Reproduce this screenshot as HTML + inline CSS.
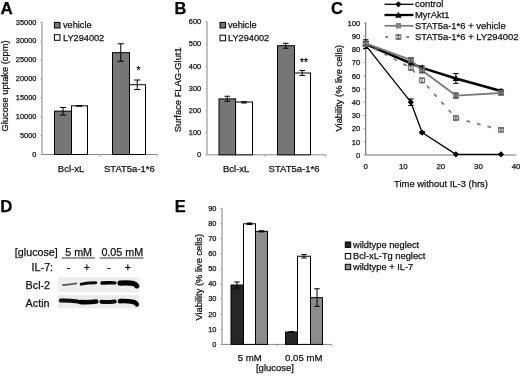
<!DOCTYPE html>
<html><head><meta charset="utf-8"><title>Figure</title>
<style>
html,body{margin:0;padding:0;background:#fff;}
body{width:520px;height:376px;overflow:hidden;font-family:"Liberation Sans",sans-serif;}
svg{display:block;will-change:transform;transform:translateZ(0);}
svg text{font-family:"Liberation Sans",sans-serif;}
</style></head><body>
<svg width="520" height="376" viewBox="0 0 520 376">
<rect x="0" y="0" width="520" height="376" fill="#fff"/>
<text x="0.5" y="13.5" font-size="17.0" text-anchor="start" font-weight="bold" fill="#000" stroke="#000" stroke-width="0.25" >A</text>
<line x1="42" y1="22.0" x2="42" y2="154.5" stroke="#858585" stroke-width="1" />
<line x1="42" y1="154.5" x2="157.5" y2="154.5" stroke="#858585" stroke-width="1" />
<line x1="100" y1="154.5" x2="100" y2="156.7" stroke="#a8a8a8" stroke-width="0.9" />
<line x1="157.5" y1="154.5" x2="157.5" y2="156.7" stroke="#a8a8a8" stroke-width="0.9" />
<text x="36.4" y="156.6" font-size="7.4" text-anchor="end" font-weight="normal" fill="#111" stroke="#111" stroke-width="0.25" >0</text>
<line x1="40.2" y1="154.5" x2="42" y2="154.5" stroke="#a6a6a6" stroke-width="0.9" />
<text x="36.4" y="137.74" font-size="7.4" text-anchor="end" font-weight="normal" fill="#111" stroke="#111" stroke-width="0.25" >5000</text>
<line x1="40.2" y1="135.64285714285714" x2="42" y2="135.64285714285714" stroke="#a6a6a6" stroke-width="0.9" />
<text x="36.4" y="118.89" font-size="7.4" text-anchor="end" font-weight="normal" fill="#111" stroke="#111" stroke-width="0.25" >10000</text>
<line x1="40.2" y1="116.78571428571428" x2="42" y2="116.78571428571428" stroke="#a6a6a6" stroke-width="0.9" />
<text x="36.4" y="100.03" font-size="7.4" text-anchor="end" font-weight="normal" fill="#111" stroke="#111" stroke-width="0.25" >15000</text>
<line x1="40.2" y1="97.92857142857143" x2="42" y2="97.92857142857143" stroke="#a6a6a6" stroke-width="0.9" />
<text x="36.4" y="81.17" font-size="7.4" text-anchor="end" font-weight="normal" fill="#111" stroke="#111" stroke-width="0.25" >20000</text>
<line x1="40.2" y1="79.07142857142857" x2="42" y2="79.07142857142857" stroke="#a6a6a6" stroke-width="0.9" />
<text x="36.4" y="62.31" font-size="7.4" text-anchor="end" font-weight="normal" fill="#111" stroke="#111" stroke-width="0.25" >25000</text>
<line x1="40.2" y1="60.21428571428571" x2="42" y2="60.21428571428571" stroke="#a6a6a6" stroke-width="0.9" />
<text x="36.4" y="43.46" font-size="7.4" text-anchor="end" font-weight="normal" fill="#111" stroke="#111" stroke-width="0.25" >30000</text>
<line x1="40.2" y1="41.35714285714286" x2="42" y2="41.35714285714286" stroke="#a6a6a6" stroke-width="0.9" />
<text x="36.4" y="24.6" font-size="7.4" text-anchor="end" font-weight="normal" fill="#111" stroke="#111" stroke-width="0.25" >35000</text>
<line x1="40.2" y1="22.5" x2="42" y2="22.5" stroke="#a6a6a6" stroke-width="0.9" />
<text transform="translate(8.1,86.0) rotate(-90)" font-size="9.3" text-anchor="middle" fill="#111" stroke="#111" stroke-width="0.25">Glucose uptake (cpm)</text>
<rect x="54.5" y="111.12857142857143" width="17" height="43.37142857142857" fill="#767676" stroke="#000" stroke-width="1"/>
<rect x="71.5" y="105.84857142857143" width="16" height="48.65142857142857" fill="#fff" stroke="#000" stroke-width="1"/>
<rect x="112.5" y="52.671428571428564" width="17" height="101.82857142857144" fill="#767676" stroke="#000" stroke-width="1"/>
<rect x="129.5" y="84.72857142857143" width="16" height="69.77142857142857" fill="#fff" stroke="#000" stroke-width="1"/>
<line x1="63" y1="107.5" x2="63" y2="115" stroke="#000" stroke-width="1" />
<line x1="59.9" y1="107.5" x2="66.1" y2="107.5" stroke="#000" stroke-width="1" />
<line x1="59.9" y1="115" x2="66.1" y2="115" stroke="#000" stroke-width="1" />
<line x1="79" y1="105.6" x2="79" y2="106.1" stroke="#000" stroke-width="1" />
<line x1="75.9" y1="105.6" x2="82.1" y2="105.6" stroke="#000" stroke-width="1" />
<line x1="75.9" y1="106.1" x2="82.1" y2="106.1" stroke="#000" stroke-width="1" />
<line x1="120.75" y1="43.75" x2="120.75" y2="61.25" stroke="#000" stroke-width="1" />
<line x1="117.65" y1="43.75" x2="123.85" y2="43.75" stroke="#000" stroke-width="1" />
<line x1="117.65" y1="61.25" x2="123.85" y2="61.25" stroke="#000" stroke-width="1" />
<line x1="137.25" y1="80" x2="137.25" y2="89.5" stroke="#000" stroke-width="1" />
<line x1="134.15" y1="80" x2="140.35" y2="80" stroke="#000" stroke-width="1" />
<line x1="134.15" y1="89.5" x2="140.35" y2="89.5" stroke="#000" stroke-width="1" />
<text x="138.5" y="74.4" font-size="10" text-anchor="middle" font-weight="normal" fill="#000" stroke="#000" stroke-width="0.25" >*</text>
<text x="71" y="171.6" font-size="9.5" text-anchor="middle" font-weight="normal" fill="#111" stroke="#111" stroke-width="0.25" >Bcl-xL</text>
<text x="129.4" y="171.5" font-size="9.5" text-anchor="middle" font-weight="normal" fill="#111" stroke="#111" stroke-width="0.25" >STAT5a-1*6</text>
<rect x="54.4" y="22.4" width="5.6" height="5.6" fill="#767676" stroke="#000" stroke-width="1"/>
<rect x="54.4" y="34.7" width="5.6" height="5.6" fill="#fff" stroke="#000" stroke-width="1"/>
<text x="63" y="28.2" font-size="9.2" text-anchor="start" font-weight="normal" fill="#111" stroke="#111" stroke-width="0.25" >vehicle</text>
<text x="63" y="40.7" font-size="9.2" text-anchor="start" font-weight="normal" fill="#111" stroke="#111" stroke-width="0.25" >LY294002</text>
<text x="174.6" y="13.8" font-size="16.4" text-anchor="start" font-weight="bold" fill="#000" stroke="#000" stroke-width="0.25" >B</text>
<line x1="207" y1="21.5" x2="207" y2="154.8" stroke="#858585" stroke-width="1" />
<line x1="207" y1="154.8" x2="325.75" y2="154.8" stroke="#858585" stroke-width="1" />
<line x1="265" y1="154.8" x2="265" y2="157.0" stroke="#a8a8a8" stroke-width="0.9" />
<line x1="325.75" y1="154.8" x2="325.75" y2="157.0" stroke="#a8a8a8" stroke-width="0.9" />
<text x="201.2" y="157.2" font-size="7.4" text-anchor="end" font-weight="normal" fill="#111" stroke="#111" stroke-width="0.25" >0</text>
<line x1="205.2" y1="155.0" x2="207" y2="155.0" stroke="#a6a6a6" stroke-width="0.9" />
<text x="201.2" y="135.03" font-size="7.4" text-anchor="end" font-weight="normal" fill="#111" stroke="#111" stroke-width="0.25" >100</text>
<line x1="205.2" y1="132.83333333333334" x2="207" y2="132.83333333333334" stroke="#a6a6a6" stroke-width="0.9" />
<text x="201.2" y="112.87" font-size="7.4" text-anchor="end" font-weight="normal" fill="#111" stroke="#111" stroke-width="0.25" >200</text>
<line x1="205.2" y1="110.66666666666667" x2="207" y2="110.66666666666667" stroke="#a6a6a6" stroke-width="0.9" />
<text x="201.2" y="90.7" font-size="7.4" text-anchor="end" font-weight="normal" fill="#111" stroke="#111" stroke-width="0.25" >300</text>
<line x1="205.2" y1="88.5" x2="207" y2="88.5" stroke="#a6a6a6" stroke-width="0.9" />
<text x="201.2" y="68.53" font-size="7.4" text-anchor="end" font-weight="normal" fill="#111" stroke="#111" stroke-width="0.25" >400</text>
<line x1="205.2" y1="66.33333333333334" x2="207" y2="66.33333333333334" stroke="#a6a6a6" stroke-width="0.9" />
<text x="201.2" y="46.37" font-size="7.4" text-anchor="end" font-weight="normal" fill="#111" stroke="#111" stroke-width="0.25" >500</text>
<line x1="205.2" y1="44.16666666666666" x2="207" y2="44.16666666666666" stroke="#a6a6a6" stroke-width="0.9" />
<text x="201.2" y="24.2" font-size="7.4" text-anchor="end" font-weight="normal" fill="#111" stroke="#111" stroke-width="0.25" >600</text>
<line x1="205.2" y1="22.0" x2="207" y2="22.0" stroke="#a6a6a6" stroke-width="0.9" />
<text transform="translate(180.9,89.8) rotate(-90)" font-size="9.4" text-anchor="middle" fill="#111" stroke="#111" stroke-width="0.25">Surface FLAG-Glut1</text>
<rect x="219.0" y="98.91833333333332" width="16.6" height="55.88166666666669" fill="#767676" stroke="#000" stroke-width="1"/>
<rect x="235.6" y="102.02166666666668" width="16.9" height="52.778333333333336" fill="#fff" stroke="#000" stroke-width="1"/>
<rect x="277.5" y="45.718333333333334" width="17" height="109.08166666666668" fill="#767676" stroke="#000" stroke-width="1"/>
<rect x="294.5" y="72.98333333333333" width="16" height="81.81666666666668" fill="#fff" stroke="#000" stroke-width="1"/>
<line x1="227.25" y1="96.25" x2="227.25" y2="101.25" stroke="#000" stroke-width="1" />
<line x1="224.45" y1="96.25" x2="230.05" y2="96.25" stroke="#000" stroke-width="1" />
<line x1="224.45" y1="101.25" x2="230.05" y2="101.25" stroke="#000" stroke-width="1" />
<line x1="244" y1="101.7" x2="244" y2="103" stroke="#000" stroke-width="1" />
<line x1="241.2" y1="101.7" x2="246.8" y2="101.7" stroke="#000" stroke-width="1" />
<line x1="241.2" y1="103" x2="246.8" y2="103" stroke="#000" stroke-width="1" />
<line x1="285.75" y1="43.25" x2="285.75" y2="48.25" stroke="#000" stroke-width="1" />
<line x1="282.95" y1="43.25" x2="288.55" y2="43.25" stroke="#000" stroke-width="1" />
<line x1="282.95" y1="48.25" x2="288.55" y2="48.25" stroke="#000" stroke-width="1" />
<line x1="302.25" y1="70.5" x2="302.25" y2="75.5" stroke="#000" stroke-width="1" />
<line x1="299.45" y1="70.5" x2="305.05" y2="70.5" stroke="#000" stroke-width="1" />
<line x1="299.45" y1="75.5" x2="305.05" y2="75.5" stroke="#000" stroke-width="1" />
<text x="304" y="66.0" font-size="10" text-anchor="middle" font-weight="normal" fill="#000" stroke="#000" stroke-width="0.25" >**</text>
<text x="236.2" y="171.5" font-size="9.5" text-anchor="middle" font-weight="normal" fill="#111" stroke="#111" stroke-width="0.25" >Bcl-xL</text>
<text x="294" y="171.5" font-size="9.5" text-anchor="middle" font-weight="normal" fill="#111" stroke="#111" stroke-width="0.25" >STAT5a-1*6</text>
<rect x="220" y="22.4" width="5.6" height="5.6" fill="#767676" stroke="#000" stroke-width="1"/>
<rect x="220" y="35.2" width="5.6" height="5.6" fill="#fff" stroke="#000" stroke-width="1"/>
<text x="228" y="28.2" font-size="9.2" text-anchor="start" font-weight="normal" fill="#111" stroke="#111" stroke-width="0.25" >vehicle</text>
<text x="228" y="41.2" font-size="9.2" text-anchor="start" font-weight="normal" fill="#111" stroke="#111" stroke-width="0.25" >LY294002</text>
<text x="330.9" y="14.1" font-size="16.6" text-anchor="start" font-weight="bold" fill="#000" stroke="#000" stroke-width="0.25" >C</text>
<line x1="365.75" y1="22.5" x2="365.75" y2="155" stroke="#484848" stroke-width="0.9" />
<line x1="365.75" y1="155" x2="516.4" y2="155" stroke="#707070" stroke-width="1" />
<text x="360.3" y="157.7" font-size="7.7" text-anchor="end" font-weight="normal" fill="#111" stroke="#111" stroke-width="0.25" >0</text>
<line x1="363.8" y1="155.0" x2="365.75" y2="155.0" stroke="#8a8a8a" stroke-width="0.9" />
<text x="360.3" y="144.5" font-size="7.7" text-anchor="end" font-weight="normal" fill="#111" stroke="#111" stroke-width="0.25" >10</text>
<line x1="363.8" y1="141.8" x2="365.75" y2="141.8" stroke="#8a8a8a" stroke-width="0.9" />
<text x="360.3" y="131.3" font-size="7.7" text-anchor="end" font-weight="normal" fill="#111" stroke="#111" stroke-width="0.25" >20</text>
<line x1="363.8" y1="128.6" x2="365.75" y2="128.6" stroke="#8a8a8a" stroke-width="0.9" />
<text x="360.3" y="118.1" font-size="7.7" text-anchor="end" font-weight="normal" fill="#111" stroke="#111" stroke-width="0.25" >30</text>
<line x1="363.8" y1="115.4" x2="365.75" y2="115.4" stroke="#8a8a8a" stroke-width="0.9" />
<text x="360.3" y="104.9" font-size="7.7" text-anchor="end" font-weight="normal" fill="#111" stroke="#111" stroke-width="0.25" >40</text>
<line x1="363.8" y1="102.2" x2="365.75" y2="102.2" stroke="#8a8a8a" stroke-width="0.9" />
<text x="360.3" y="91.7" font-size="7.7" text-anchor="end" font-weight="normal" fill="#111" stroke="#111" stroke-width="0.25" >50</text>
<line x1="363.8" y1="89.0" x2="365.75" y2="89.0" stroke="#8a8a8a" stroke-width="0.9" />
<text x="360.3" y="78.5" font-size="7.7" text-anchor="end" font-weight="normal" fill="#111" stroke="#111" stroke-width="0.25" >60</text>
<line x1="363.8" y1="75.8" x2="365.75" y2="75.8" stroke="#8a8a8a" stroke-width="0.9" />
<text x="360.3" y="65.3" font-size="7.7" text-anchor="end" font-weight="normal" fill="#111" stroke="#111" stroke-width="0.25" >70</text>
<line x1="363.8" y1="62.599999999999994" x2="365.75" y2="62.599999999999994" stroke="#8a8a8a" stroke-width="0.9" />
<text x="360.3" y="52.1" font-size="7.7" text-anchor="end" font-weight="normal" fill="#111" stroke="#111" stroke-width="0.25" >80</text>
<line x1="363.8" y1="49.400000000000006" x2="365.75" y2="49.400000000000006" stroke="#8a8a8a" stroke-width="0.9" />
<text x="360.3" y="38.9" font-size="7.7" text-anchor="end" font-weight="normal" fill="#111" stroke="#111" stroke-width="0.25" >90</text>
<line x1="363.8" y1="36.2" x2="365.75" y2="36.2" stroke="#8a8a8a" stroke-width="0.9" />
<text x="360.3" y="25.7" font-size="7.7" text-anchor="end" font-weight="normal" fill="#111" stroke="#111" stroke-width="0.25" >100</text>
<line x1="363.8" y1="23.0" x2="365.75" y2="23.0" stroke="#8a8a8a" stroke-width="0.9" />
<text x="365.75" y="169.0" font-size="7.9" text-anchor="middle" font-weight="normal" fill="#111" stroke="#111" stroke-width="0.25" >0</text>
<text x="403.32" y="169.0" font-size="7.9" text-anchor="middle" font-weight="normal" fill="#111" stroke="#111" stroke-width="0.25" >10</text>
<text x="440.89" y="169.0" font-size="7.9" text-anchor="middle" font-weight="normal" fill="#111" stroke="#111" stroke-width="0.25" >20</text>
<text x="478.46" y="169.0" font-size="7.9" text-anchor="middle" font-weight="normal" fill="#111" stroke="#111" stroke-width="0.25" >30</text>
<text x="516.03" y="169.0" font-size="7.9" text-anchor="middle" font-weight="normal" fill="#111" stroke="#111" stroke-width="0.25" >40</text>
<text transform="translate(341.5,88.1) rotate(-90)" font-size="9.3" text-anchor="middle" fill="#111" stroke="#111" stroke-width="0.25">Viability (% live cells)</text>
<text x="441" y="186.5" font-size="9.43" text-anchor="middle" font-weight="normal" fill="#111" stroke="#111" stroke-width="0.25" >Time without IL-3 (hrs)</text>
<polyline points="365.75,45.44 410.83,102.20 422.11,132.56 455.92,154.34 501.00,154.34" fill="none" stroke="#000" stroke-width="1.3" stroke-linejoin="round" />
<line x1="410.834" y1="98.9" x2="410.834" y2="105.5" stroke="#000" stroke-width="1" />
<line x1="408.134" y1="98.9" x2="413.534" y2="98.9" stroke="#000" stroke-width="1" />
<line x1="408.134" y1="105.5" x2="413.534" y2="105.5" stroke="#000" stroke-width="1" />
<line x1="422.105" y1="131.504" x2="422.105" y2="133.61599999999999" stroke="#000" stroke-width="1" />
<line x1="419.40500000000003" y1="131.504" x2="424.805" y2="131.504" stroke="#000" stroke-width="1" />
<line x1="419.40500000000003" y1="133.61599999999999" x2="424.805" y2="133.61599999999999" stroke="#000" stroke-width="1" />
<path d="M362.65,45.44 L365.75,42.34 L368.85,45.44 L365.75,48.54Z" fill="#000"/>
<path d="M407.73,102.20 L410.83,99.10 L413.93,102.20 L410.83,105.30Z" fill="#000"/>
<path d="M419.00,132.56 L422.11,129.46 L425.21,132.56 L422.11,135.66Z" fill="#000"/>
<path d="M452.82,154.34 L455.92,151.24 L459.02,154.34 L455.92,157.44Z" fill="#000"/>
<path d="M497.90,154.34 L501.00,151.24 L504.10,154.34 L501.00,157.44Z" fill="#000"/>
<polyline points="365.75,44.12 410.83,63.26 422.11,67.88 455.92,78.44 501.00,90.98" fill="none" stroke="#000" stroke-width="2.5" stroke-linejoin="round" />
<line x1="365.75" y1="39.763999999999996" x2="365.75" y2="48.476" stroke="#000" stroke-width="1" />
<line x1="363.05" y1="39.763999999999996" x2="368.45" y2="39.763999999999996" stroke="#000" stroke-width="1" />
<line x1="363.05" y1="48.476" x2="368.45" y2="48.476" stroke="#000" stroke-width="1" />
<line x1="410.834" y1="61.28" x2="410.834" y2="65.24" stroke="#000" stroke-width="1" />
<line x1="408.134" y1="61.28" x2="413.534" y2="61.28" stroke="#000" stroke-width="1" />
<line x1="408.134" y1="65.24" x2="413.534" y2="65.24" stroke="#000" stroke-width="1" />
<line x1="422.105" y1="65.9" x2="422.105" y2="69.86" stroke="#000" stroke-width="1" />
<line x1="419.40500000000003" y1="65.9" x2="424.805" y2="65.9" stroke="#000" stroke-width="1" />
<line x1="419.40500000000003" y1="69.86" x2="424.805" y2="69.86" stroke="#000" stroke-width="1" />
<line x1="455.918" y1="73.556" x2="455.918" y2="83.32400000000001" stroke="#000" stroke-width="1" />
<line x1="453.218" y1="73.556" x2="458.618" y2="73.556" stroke="#000" stroke-width="1" />
<line x1="453.218" y1="83.32400000000001" x2="458.618" y2="83.32400000000001" stroke="#000" stroke-width="1" />
<line x1="501.002" y1="89.396" x2="501.002" y2="92.56400000000001" stroke="#000" stroke-width="1" />
<line x1="498.302" y1="89.396" x2="503.702" y2="89.396" stroke="#000" stroke-width="1" />
<line x1="498.302" y1="92.56400000000001" x2="503.702" y2="92.56400000000001" stroke="#000" stroke-width="1" />
<path d="M362.45,46.76 L365.75,40.82 L369.05,46.76Z" fill="#000"/>
<path d="M407.53,65.90 L410.83,59.96 L414.13,65.90Z" fill="#000"/>
<path d="M418.81,70.52 L422.11,64.58 L425.41,70.52Z" fill="#000"/>
<path d="M452.62,81.08 L455.92,75.14 L459.22,81.08Z" fill="#000"/>
<path d="M497.70,93.62 L501.00,87.68 L504.30,93.62Z" fill="#000"/>
<polyline points="365.75,44.12 410.83,67.88 422.11,80.42 455.92,118.04 501.00,129.92" fill="none" stroke="#7c7c7c" stroke-width="1.8" stroke-linejoin="round" stroke-dasharray="3.7 7.17" stroke-dashoffset="1.1"/>
<rect x="363.35" y="41.72" width="4.8" height="4.8" fill="#f2f2f2" stroke="#6a6a6a" stroke-width="1"/>
<rect x="408.43" y="65.48" width="4.8" height="4.8" fill="#f2f2f2" stroke="#6a6a6a" stroke-width="1"/>
<rect x="419.71" y="78.02" width="4.8" height="4.8" fill="#f2f2f2" stroke="#6a6a6a" stroke-width="1"/>
<rect x="453.52" y="115.64" width="4.8" height="4.8" fill="#f2f2f2" stroke="#6a6a6a" stroke-width="1"/>
<rect x="498.60" y="127.52" width="4.8" height="4.8" fill="#f2f2f2" stroke="#6a6a6a" stroke-width="1"/>
<line x1="365.75" y1="42.536" x2="365.75" y2="45.70399999999999" stroke="#4a4a4a" stroke-width="0.9" />
<line x1="364.05" y1="42.536" x2="367.45" y2="42.536" stroke="#4a4a4a" stroke-width="0.9" />
<line x1="364.05" y1="45.70399999999999" x2="367.45" y2="45.70399999999999" stroke="#4a4a4a" stroke-width="0.9" />
<line x1="410.834" y1="66.164" x2="410.834" y2="69.596" stroke="#4a4a4a" stroke-width="0.9" />
<line x1="409.134" y1="66.164" x2="412.534" y2="66.164" stroke="#4a4a4a" stroke-width="0.9" />
<line x1="409.134" y1="69.596" x2="412.534" y2="69.596" stroke="#4a4a4a" stroke-width="0.9" />
<line x1="422.105" y1="78.308" x2="422.105" y2="82.532" stroke="#4a4a4a" stroke-width="0.9" />
<line x1="420.40500000000003" y1="78.308" x2="423.805" y2="78.308" stroke="#4a4a4a" stroke-width="0.9" />
<line x1="420.40500000000003" y1="82.532" x2="423.805" y2="82.532" stroke="#4a4a4a" stroke-width="0.9" />
<line x1="455.918" y1="116.72" x2="455.918" y2="119.36" stroke="#4a4a4a" stroke-width="0.9" />
<line x1="454.218" y1="116.72" x2="457.618" y2="116.72" stroke="#4a4a4a" stroke-width="0.9" />
<line x1="454.218" y1="119.36" x2="457.618" y2="119.36" stroke="#4a4a4a" stroke-width="0.9" />
<line x1="501.002" y1="128.6" x2="501.002" y2="131.24" stroke="#4a4a4a" stroke-width="0.9" />
<line x1="499.302" y1="128.6" x2="502.702" y2="128.6" stroke="#4a4a4a" stroke-width="0.9" />
<line x1="499.302" y1="131.24" x2="502.702" y2="131.24" stroke="#4a4a4a" stroke-width="0.9" />
<polyline points="365.75,43.46 410.83,59.96 422.11,70.52 455.92,95.60 501.00,92.96" fill="none" stroke="#7c7c7c" stroke-width="1.9" stroke-linejoin="round" />
<rect x="363.15" y="40.86" width="5.2" height="5.2" fill="#8a8a8a" stroke="#7a7a7a" stroke-width="0.8"/>
<rect x="408.23" y="57.36" width="5.2" height="5.2" fill="#8a8a8a" stroke="#7a7a7a" stroke-width="0.8"/>
<rect x="419.50" y="67.92" width="5.2" height="5.2" fill="#8a8a8a" stroke="#7a7a7a" stroke-width="0.8"/>
<rect x="453.32" y="93.00" width="5.2" height="5.2" fill="#8a8a8a" stroke="#7a7a7a" stroke-width="0.8"/>
<rect x="498.40" y="90.36" width="5.2" height="5.2" fill="#8a8a8a" stroke="#7a7a7a" stroke-width="0.8"/>
<line x1="365.75" y1="41.480000000000004" x2="365.75" y2="45.44" stroke="#4a4a4a" stroke-width="1" />
<line x1="363.05" y1="41.480000000000004" x2="368.45" y2="41.480000000000004" stroke="#4a4a4a" stroke-width="1" />
<line x1="363.05" y1="45.44" x2="368.45" y2="45.44" stroke="#4a4a4a" stroke-width="1" />
<line x1="410.834" y1="57.980000000000004" x2="410.834" y2="61.94" stroke="#4a4a4a" stroke-width="1" />
<line x1="408.134" y1="57.980000000000004" x2="413.534" y2="57.980000000000004" stroke="#4a4a4a" stroke-width="1" />
<line x1="408.134" y1="61.94" x2="413.534" y2="61.94" stroke="#4a4a4a" stroke-width="1" />
<line x1="422.105" y1="68.40800000000002" x2="422.105" y2="72.632" stroke="#4a4a4a" stroke-width="1" />
<line x1="419.40500000000003" y1="68.40800000000002" x2="424.805" y2="68.40800000000002" stroke="#4a4a4a" stroke-width="1" />
<line x1="419.40500000000003" y1="72.632" x2="424.805" y2="72.632" stroke="#4a4a4a" stroke-width="1" />
<line x1="455.918" y1="92.96000000000001" x2="455.918" y2="98.24000000000001" stroke="#4a4a4a" stroke-width="1" />
<line x1="453.218" y1="92.96000000000001" x2="458.618" y2="92.96000000000001" stroke="#4a4a4a" stroke-width="1" />
<line x1="453.218" y1="98.24000000000001" x2="458.618" y2="98.24000000000001" stroke="#4a4a4a" stroke-width="1" />
<line x1="501.002" y1="91.376" x2="501.002" y2="94.54400000000001" stroke="#4a4a4a" stroke-width="1" />
<line x1="498.302" y1="91.376" x2="503.702" y2="91.376" stroke="#4a4a4a" stroke-width="1" />
<line x1="498.302" y1="94.54400000000001" x2="503.702" y2="94.54400000000001" stroke="#4a4a4a" stroke-width="1" />
<line x1="384.5" y1="4.3" x2="413.5" y2="4.3" stroke="#000" stroke-width="1.3" />
<path d="M395.30,4.30 L398.40,1.20 L401.50,4.30 L398.40,7.40Z" fill="#000"/>
<line x1="384.5" y1="15" x2="413.5" y2="15" stroke="#000" stroke-width="2.3" />
<path d="M395.10,17.64 L398.40,11.70 L401.70,17.64Z" fill="#000"/>
<line x1="384.5" y1="25.8" x2="413.5" y2="25.8" stroke="#7c7c7c" stroke-width="1.8" />
<rect x="396.20" y="23.60" width="4.4" height="4.4" fill="#8a8a8a" stroke="#7a7a7a" stroke-width="0.8"/>
<line x1="385.3" y1="37" x2="388" y2="37" stroke="#7c7c7c" stroke-width="1.9" />
<line x1="406.3" y1="37" x2="409.1" y2="37" stroke="#7c7c7c" stroke-width="1.9" />
<rect x="396.00" y="34.60" width="4.8" height="4.8" fill="#f2f2f2" stroke="#6a6a6a" stroke-width="1"/>
<line x1="398.4" y1="35.6" x2="398.4" y2="38.4" stroke="#4a4a4a" stroke-width="0.9" />
<line x1="396.9" y1="35.6" x2="399.9" y2="35.6" stroke="#4a4a4a" stroke-width="0.9" />
<line x1="396.9" y1="38.4" x2="399.9" y2="38.4" stroke="#4a4a4a" stroke-width="0.9" />
<text x="415" y="7.3" font-size="9.45" text-anchor="start" font-weight="normal" fill="#111" stroke="#111" stroke-width="0.25" >control</text>
<text x="415" y="18.3" font-size="9.45" text-anchor="start" font-weight="normal" fill="#111" stroke="#111" stroke-width="0.25" >MyrAkt1</text>
<text x="415" y="29.1" font-size="9.45" text-anchor="start" font-weight="normal" fill="#111" stroke="#111" stroke-width="0.25" >STAT5a-1*6 + vehicle</text>
<text x="415" y="40.3" font-size="9.45" text-anchor="start" font-weight="normal" fill="#111" stroke="#111" stroke-width="0.25" >STAT5a-1*6 + LY294002</text>
<text x="0.3" y="211.6" font-size="16.7" text-anchor="start" font-weight="bold" fill="#000" stroke="#000" stroke-width="0.25" >D</text>
<text x="14.8" y="255.9" font-size="10.75" text-anchor="start" font-weight="normal" fill="#111" stroke="#111" stroke-width="0.25" >[glucose]</text>
<text x="65.2" y="255.9" font-size="10.75" text-anchor="start" font-weight="normal" fill="#111" stroke="#111" stroke-width="0.25" >5 mM</text>
<text x="101.4" y="255.9" font-size="10.75" text-anchor="start" font-weight="normal" fill="#111" stroke="#111" stroke-width="0.25" >0.05 mM</text>
<line x1="61.7" y1="258.0" x2="95.0" y2="258.0" stroke="#222" stroke-width="0.9" />
<line x1="99.6" y1="258.0" x2="143.6" y2="258.0" stroke="#222" stroke-width="0.9" />
<text x="31.6" y="270.6" font-size="10.75" text-anchor="start" font-weight="normal" fill="#111" stroke="#111" stroke-width="0.25" >IL-7:</text>
<text x="68.8" y="270.6" font-size="10.5" text-anchor="middle" font-weight="normal" fill="#000" stroke="#000" stroke-width="0.25" >-</text>
<text x="86.8" y="270.6" font-size="10.5" text-anchor="middle" font-weight="normal" fill="#000" stroke="#000" stroke-width="0.25" >+</text>
<text x="109.0" y="270.6" font-size="10.5" text-anchor="middle" font-weight="normal" fill="#000" stroke="#000" stroke-width="0.25" >-</text>
<text x="127.8" y="270.6" font-size="10.5" text-anchor="middle" font-weight="normal" fill="#000" stroke="#000" stroke-width="0.25" >+</text>
<text x="25.6" y="289.3" font-size="10.75" text-anchor="start" font-weight="normal" fill="#111" stroke="#111" stroke-width="0.25" >Bcl-2</text>
<text x="25.6" y="306.5" font-size="10.75" text-anchor="start" font-weight="normal" fill="#111" stroke="#111" stroke-width="0.25" >Actin</text>
<defs><filter id="bl" x="-10%" y="-60%" width="120%" height="220%"><feGaussianBlur stdDeviation="0.62"/></filter><filter id="bg" x="-5%" y="-20%" width="110%" height="140%"><feGaussianBlur stdDeviation="0.6"/></filter></defs>
<rect x="57.9" y="277" width="81.6" height="15" fill="#eeeeee" filter="url(#bg)"/>
<rect x="57.9" y="295.2" width="81.6" height="13.2" fill="#ebebeb" filter="url(#bg)"/>
<g filter="url(#bl)" fill="none" stroke-linecap="round">
<path d="M63,285.2 Q70,284.7 76.3,283.4" stroke="#585858" stroke-width="1.8"/>
<path d="M81.2,284.2 Q88,282.8 95.8,282.8" stroke="#101010" stroke-width="2.9"/>
<path d="M102,283.0 Q108,282.5 114.8,282.9" stroke="#060606" stroke-width="3.4"/>
<path d="M120,283.2 Q128,282.2 133.6,283.6 Q136.2,284.6 136.8,285.8" stroke="#000" stroke-width="5.2"/>
<path d="M60.8,300.6 Q69,300.4 77.5,301.4" stroke="#080808" stroke-width="4.0"/>
<path d="M80,302 Q88,302.5 96.3,301.5" stroke="#050505" stroke-width="4.5"/>
<path d="M101.4,301.8 Q108,302.3 114.8,301.4" stroke="#080808" stroke-width="4.0"/>
<path d="M120,301.1 Q128,300.8 133.6,302 Q136.2,303 136.8,304.4" stroke="#000" stroke-width="4.6"/>
</g>
<text x="174.8" y="211.7" font-size="16.4" text-anchor="start" font-weight="bold" fill="#000" stroke="#000" stroke-width="0.25" >E</text>
<line x1="222.0" y1="208.25" x2="222.0" y2="344.4" stroke="#858585" stroke-width="1" />
<line x1="222.0" y1="344.4" x2="332" y2="344.4" stroke="#858585" stroke-width="1" />
<line x1="277" y1="344.4" x2="277" y2="346.59999999999997" stroke="#a8a8a8" stroke-width="0.9" />
<line x1="332" y1="344.4" x2="332" y2="346.59999999999997" stroke="#a8a8a8" stroke-width="0.9" />
<text x="216.4" y="346.7" font-size="7.4" text-anchor="end" font-weight="normal" fill="#111" stroke="#111" stroke-width="0.25" >0</text>
<line x1="220.2" y1="344.4" x2="222" y2="344.4" stroke="#a6a6a6" stroke-width="0.9" />
<text x="216.4" y="331.63" font-size="7.4" text-anchor="end" font-weight="normal" fill="#111" stroke="#111" stroke-width="0.25" >10</text>
<line x1="220.2" y1="329.3277777777778" x2="222" y2="329.3277777777778" stroke="#a6a6a6" stroke-width="0.9" />
<text x="216.4" y="316.56" font-size="7.4" text-anchor="end" font-weight="normal" fill="#111" stroke="#111" stroke-width="0.25" >20</text>
<line x1="220.2" y1="314.25555555555553" x2="222" y2="314.25555555555553" stroke="#a6a6a6" stroke-width="0.9" />
<text x="216.4" y="301.48" font-size="7.4" text-anchor="end" font-weight="normal" fill="#111" stroke="#111" stroke-width="0.25" >30</text>
<line x1="220.2" y1="299.18333333333334" x2="222" y2="299.18333333333334" stroke="#a6a6a6" stroke-width="0.9" />
<text x="216.4" y="286.41" font-size="7.4" text-anchor="end" font-weight="normal" fill="#111" stroke="#111" stroke-width="0.25" >40</text>
<line x1="220.2" y1="284.1111111111111" x2="222" y2="284.1111111111111" stroke="#a6a6a6" stroke-width="0.9" />
<text x="216.4" y="271.34" font-size="7.4" text-anchor="end" font-weight="normal" fill="#111" stroke="#111" stroke-width="0.25" >50</text>
<line x1="220.2" y1="269.0388888888889" x2="222" y2="269.0388888888889" stroke="#a6a6a6" stroke-width="0.9" />
<text x="216.4" y="256.27" font-size="7.4" text-anchor="end" font-weight="normal" fill="#111" stroke="#111" stroke-width="0.25" >60</text>
<line x1="220.2" y1="253.96666666666667" x2="222" y2="253.96666666666667" stroke="#a6a6a6" stroke-width="0.9" />
<text x="216.4" y="241.19" font-size="7.4" text-anchor="end" font-weight="normal" fill="#111" stroke="#111" stroke-width="0.25" >70</text>
<line x1="220.2" y1="238.89444444444445" x2="222" y2="238.89444444444445" stroke="#a6a6a6" stroke-width="0.9" />
<text x="216.4" y="226.12" font-size="7.4" text-anchor="end" font-weight="normal" fill="#111" stroke="#111" stroke-width="0.25" >80</text>
<line x1="220.2" y1="223.82222222222222" x2="222" y2="223.82222222222222" stroke="#a6a6a6" stroke-width="0.9" />
<text x="216.4" y="211.05" font-size="7.4" text-anchor="end" font-weight="normal" fill="#111" stroke="#111" stroke-width="0.25" >90</text>
<line x1="220.2" y1="208.75" x2="222" y2="208.75" stroke="#a6a6a6" stroke-width="0.9" />
<text transform="translate(202.1,277.2) rotate(-90)" font-size="9.3" text-anchor="middle" fill="#111" stroke="#111" stroke-width="0.25">Viability (% live cells)</text>
<rect x="231.0" y="285.0154444444444" width="12.5" height="59.38455555555555" fill="#262626" stroke="#000" stroke-width="1"/>
<rect x="243.5" y="223.82222222222222" width="12" height="120.57777777777775" fill="#fff" stroke="#000" stroke-width="1"/>
<rect x="255.5" y="231.35833333333335" width="12" height="113.04166666666663" fill="#8c8c8c" stroke="#000" stroke-width="1"/>
<rect x="285.5" y="332.04077777777775" width="12" height="12.359222222222229" fill="#262626" stroke="#000" stroke-width="1"/>
<rect x="297.5" y="256.22749999999996" width="13" height="88.17250000000001" fill="#fff" stroke="#000" stroke-width="1"/>
<rect x="310.5" y="297.6761111111111" width="12" height="46.723888888888894" fill="#8c8c8c" stroke="#000" stroke-width="1"/>
<line x1="237" y1="282" x2="237" y2="288" stroke="#000" stroke-width="1" />
<line x1="234.25" y1="282" x2="239.75" y2="282" stroke="#000" stroke-width="1" />
<line x1="234.25" y1="288" x2="239.75" y2="288" stroke="#000" stroke-width="1" />
<line x1="249.5" y1="223.2" x2="249.5" y2="224.3" stroke="#000" stroke-width="1.4" />
<line x1="246.75" y1="223.2" x2="252.25" y2="223.2" stroke="#000" stroke-width="1.4" />
<line x1="246.75" y1="224.3" x2="252.25" y2="224.3" stroke="#000" stroke-width="1.4" />
<line x1="261.5" y1="230.9" x2="261.5" y2="231.7" stroke="#000" stroke-width="1.4" />
<line x1="258.75" y1="230.9" x2="264.25" y2="230.9" stroke="#000" stroke-width="1.4" />
<line x1="258.75" y1="231.7" x2="264.25" y2="231.7" stroke="#000" stroke-width="1.4" />
<line x1="291.5" y1="331.6" x2="291.5" y2="332.3" stroke="#000" stroke-width="1.2" />
<line x1="288.75" y1="331.6" x2="294.25" y2="331.6" stroke="#000" stroke-width="1.2" />
<line x1="288.75" y1="332.3" x2="294.25" y2="332.3" stroke="#000" stroke-width="1.2" />
<line x1="304" y1="254.5" x2="304" y2="258" stroke="#000" stroke-width="1" />
<line x1="301.25" y1="254.5" x2="306.75" y2="254.5" stroke="#000" stroke-width="1" />
<line x1="301.25" y1="258" x2="306.75" y2="258" stroke="#000" stroke-width="1" />
<line x1="317" y1="288.75" x2="317" y2="306.25" stroke="#000" stroke-width="1" />
<line x1="314.25" y1="288.75" x2="319.75" y2="288.75" stroke="#000" stroke-width="1" />
<line x1="314.25" y1="306.25" x2="319.75" y2="306.25" stroke="#000" stroke-width="1" />
<text x="249.8" y="361.0" font-size="9.6" text-anchor="middle" font-weight="normal" fill="#111" stroke="#111" stroke-width="0.25" >5 mM</text>
<text x="303.75" y="361.0" font-size="9.6" text-anchor="middle" font-weight="normal" fill="#111" stroke="#111" stroke-width="0.25" >0.05 mM</text>
<text x="275" y="370.6" font-size="9.5" text-anchor="middle" font-weight="normal" fill="#111" stroke="#111" stroke-width="0.25" >[glucose]</text>
<rect x="345.3" y="242.0" width="5.4" height="5.4" fill="#262626" stroke="#000" stroke-width="1"/>
<rect x="345.3" y="253.5" width="5.4" height="5.4" fill="#fff" stroke="#000" stroke-width="1"/>
<rect x="345.3" y="264.3" width="5.4" height="5.4" fill="#8c8c8c" stroke="#000" stroke-width="1"/>
<text x="353" y="247.9" font-size="9.3" text-anchor="start" font-weight="normal" fill="#111" stroke="#111" stroke-width="0.25" >wildtype neglect</text>
<text x="353" y="259.4" font-size="9.3" text-anchor="start" font-weight="normal" fill="#111" stroke="#111" stroke-width="0.25" >Bcl-xL-Tg neglect</text>
<text x="353" y="270.2" font-size="9.3" text-anchor="start" font-weight="normal" fill="#111" stroke="#111" stroke-width="0.25" >wildtype + IL-7</text>
</svg>
</body></html>
